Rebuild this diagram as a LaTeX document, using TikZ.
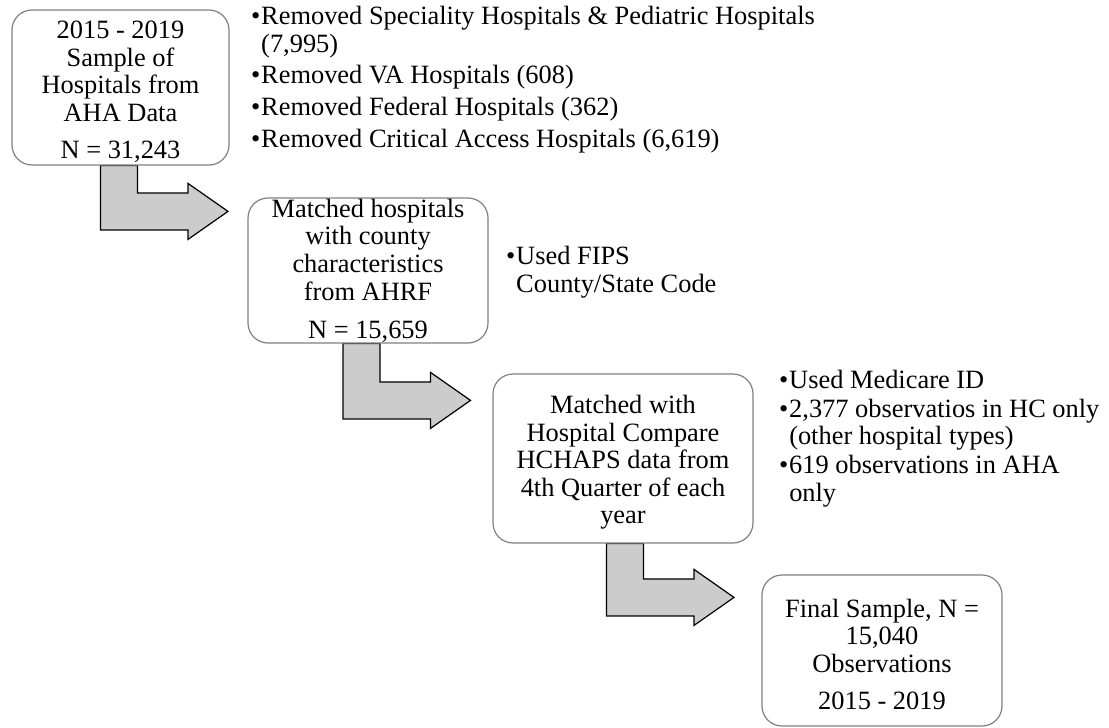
\documentclass[tikz,border=0pt]{standalone}
\usepackage{fontspec}
\setmainfont{Liberation Serif}
\usetikzlibrary{calc,backgrounds}

\definecolor{boxline}{gray}{0.5}
\definecolor{arrowfill}{gray}{0.8}

\tikzstyle{block} = [rectangle, draw=boxline, line width=0.6pt, fill=white, rounded corners=10pt, align=center, inner sep=0pt]
\tikzstyle{note} = [anchor=north west, inner sep=0pt, align=left]
\tikzstyle{bigarrow} = [draw=black, line width=0.6pt, fill=arrowfill, line join=miter]

% taller first line, pushes the box text a little down
\newcommand{\topstrut}{\rule{0pt}{13pt}}

% bent block arrow: stem down from #1, head pointing at #2
\newcommand{\bentarrow}[3]{%
  \path[bigarrow] let \p1 = (#1), \p2 = (#2), \n1 = {\y2-#3} in
    (\x1-9.25pt,\y1) -- (\x1-9.25pt,\n1-9.25pt) -- (\x1+34.5pt,\n1-9.25pt)
    -- (\x1+34.5pt,\n1-14pt) -- (\x1+54.5pt,\n1) -- (\x1+34.5pt,\n1+14pt)
    -- (\x1+34.5pt,\n1+9.25pt) -- (\x1+9.25pt,\n1+9.25pt) -- (\x1+9.25pt,\y1) -- cycle;
}

\begin{document}
\begin{tikzpicture}[font = \fontsize{13.2pt}{13.8pt}\selectfont]

  \useasboundingbox (0,0) rectangle (554.5pt,-364pt);

  \node[block, minimum width = 108.5pt, minimum height = 77.5pt] (sample) at (60.25pt,-43.75pt)
    {\topstrut 2015 - 2019\\Sample of\\Hospitals from\\AHA Data\\[4.7pt]N = 31,243};
  \node[block, below of = sample, node distance = 91.5pt, xshift = 123.75pt, minimum width = 120pt, minimum height = 72.5pt] (ahrf)
    {Matched hospitals\\with county\\characteristics\\from AHRF\\[5.2pt]N = 15,659};
  \node[block, below of = ahrf, node distance = 94pt, xshift = 127.5pt, minimum width = 130pt, minimum height = 84.5pt] (hcahps)
    {\topstrut Matched with\\Hospital Compare\\HCHAPS data from\\4th Quarter of each\\year};
  \node[block, below of = hcahps, node distance = 96pt, xshift = 129.5pt, minimum width = 120pt, minimum height = 75.5pt] (final)
    {\topstrut Final Sample, N =\\15,040\\Observations\\[4.7pt]2015 - 2019};

  \node[note] (removed) at ([xshift = 10.5pt, yshift = 2.2pt]sample.north east)
    {\begin{tabular}{@{}l@{\hspace{0.5pt}}l@{}}
      \textbullet & Removed Speciality Hospitals \& Pediatric Hospitals\\
                  & (7,995)\\[2pt]
      \textbullet & Removed VA Hospitals (608)\\[2pt]
      \textbullet & Removed Federal Hospitals (362)\\[2pt]
      \textbullet & Removed Critical Access Hospitals (6,619)
    \end{tabular}};
  \node[note] (fips) at ([xshift = 8.5pt, yshift = -23.8pt]ahrf.north east)
    {\begin{tabular}{@{}l@{\hspace{0.5pt}}l@{}}
      \textbullet & Used FIPS\\
                  & County/State Code
    \end{tabular}};
  \node[note] (medicare) at ([xshift = 12.5pt, yshift = 2.2pt]hcahps.north east)
    {\begin{tabular}{@{}l@{\hspace{0.5pt}}l@{}}
      \textbullet & Used Medicare ID\\[0.5pt]
      \textbullet & 2,377 observatios in HC only\\
                  & (other hospital types)\\[0.5pt]
      \textbullet & 619 observations in AHA\\
                  & only
    \end{tabular}};

  \begin{pgfonlayer}{background}
    \bentarrow{[xshift = -0.75pt]sample.south}{ahrf.north}{7pt}
    \bentarrow{[xshift = -3.25pt]ahrf.south}{hcahps.north}{13.5pt}
    \bentarrow{[xshift = 1pt]hcahps.south}{final.north}{11.5pt}
  \end{pgfonlayer}

\end{tikzpicture}
\end{document}
